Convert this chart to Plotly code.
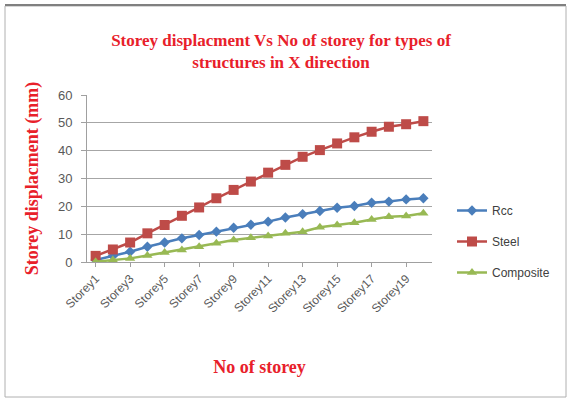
import plotly.graph_objects as go

storeys = [f"Storey{i}" for i in range(1, 21)]
rcc = [0.7, 2.2, 3.7, 5.5, 7.0, 8.5, 9.7, 10.9, 12.3, 13.4, 14.5, 16.0, 17.2, 18.3, 19.5, 20.1, 21.3, 21.7, 22.5, 22.9]
steel = [2.2, 4.5, 7.0, 10.3, 13.3, 16.6, 19.6, 22.9, 25.9, 28.9, 32.1, 34.9, 37.8, 40.2, 42.6, 44.8, 46.8, 48.6, 49.5, 50.6]
composite = [0.1, 0.7, 1.3, 2.3, 3.4, 4.3, 5.5, 6.7, 7.9, 8.7, 9.3, 10.3, 10.9, 12.5, 13.3, 14.1, 15.3, 16.3, 16.5, 17.5]
tick_labels = storeys[::2]
y_ticks = [0, 10, 20, 30, 40, 50, 60]

W, H = 569, 399
L, R, T, B = 87, 137, 95, 137
pw, ph = W - L - R, H - T - B

def px(x):
    return (x - L) / pw

def py(y):
    return (H - B - y) / ph

fig = go.Figure()
fig.add_trace(go.Scatter(x=storeys, y=rcc, name="Rcc", mode="lines+markers", legendgroup="a",
                         line=dict(color="#4A7EBB", width=2.5),
                         marker=dict(symbol="diamond", size=8, color="#4A7EBB")))
fig.add_trace(go.Scatter(x=storeys, y=steel, name="Steel", mode="lines+markers", legendgroup="b",
                         line=dict(color="#BE4B48", width=2.5),
                         marker=dict(symbol="square", size=10, color="#BE4B48")))
fig.add_trace(go.Scatter(x=storeys, y=composite, name="Composite", mode="lines+markers", legendgroup="c",
                         line=dict(color="#98B954", width=2.5),
                         marker=dict(symbol="triangle-up", size=9, color="#98B954")))

red = "#E8202A"
fig.update_layout(
    width=W, height=H,
    margin=dict(l=L, r=R, t=T, b=B),
    paper_bgcolor="white", plot_bgcolor="white",
    title=dict(text="<b>Storey displacment Vs No of storey for types of<br>structures in X direction</b>",
               x=(281 / W), xanchor="center", y=1 - 46 / H, yanchor="top",
               font=dict(family="Liberation Serif", size=17, color=red)),
    xaxis=dict(type="category", tickmode="array", tickvals=tick_labels, ticktext=tick_labels,
               tickangle=-45, tickfont=dict(family="Liberation Sans", size=12, color="#595959"),
               showgrid=False, showline=True, linecolor="#A0A0A0", linewidth=1,
               ticks="outside", ticklen=4, tickcolor="#A0A0A0",
               range=[-0.5, 19.5],
               title=dict(text="<b>No of storey</b>", standoff=45,
                          font=dict(family="Liberation Serif", size=18, color=red))),
    yaxis=dict(range=[0, 60], tickvals=y_ticks, showgrid=True, gridcolor="#A6A6A6", gridwidth=1,
               showline=True, linecolor="#A0A0A0", linewidth=1, zeroline=False,
               ticks="outside", ticklen=5, tickcolor="#A0A0A0", ticklabelstandoff=6,
               tickfont=dict(family="Liberation Sans", size=13, color="#595959"),
               title=dict(text="<b>Storey displacment (mm)</b>", standoff=14,
                          font=dict(family="Liberation Serif", size=18, color=red))),
    legend=dict(x=px(452), xanchor="left", y=py(196), yanchor="top",
                traceorder="grouped", tracegroupgap=12,
                font=dict(family="Liberation Sans", size=12, color="#404040"),
                bgcolor="rgba(0,0,0,0)"),
    showlegend=True,
    shapes=[
        dict(type="rect", xref="paper", yref="paper", x0=px(5), x1=px(566), y0=py(397), y1=py(6),
             line=dict(color="#B0B0B0", width=1), layer="below"),
        dict(type="line", xref="paper", yref="paper", x0=px(5), x1=px(566), y0=py(5), y1=py(5),
             line=dict(color="#808080", width=2)),
    ],
)

fig.write_html("out.html")
